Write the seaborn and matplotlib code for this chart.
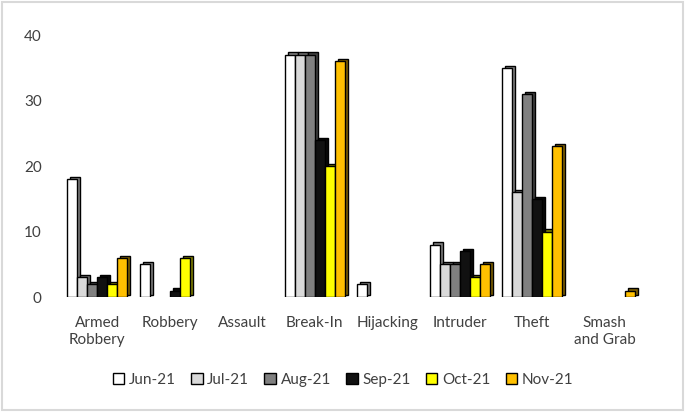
import pandas as pd
import numpy as np
import matplotlib
matplotlib.use("Agg")
import matplotlib.pyplot as plt
import matplotlib.patheffects as pe
from matplotlib.patches import Patch, Rectangle
import seaborn as sns

sns.set_theme(style="white")
plt.rcParams['font.family'] = ['Lato', 'DejaVu Sans']

# data
crimes = ["Armed\nRobbery", "Robbery", "Assault", "Break-In", "Hijacking",
          "Intruder", "Theft", "Smash\nand Grab"]
months = ["Jun-21", "Jul-21", "Aug-21", "Sep-21", "Oct-21", "Nov-21"]
jun = [18, 5, 0, 37, 2, 8, 35, 0]
jul = [3, 0, 0, 37, 0, 5, 16, 0]
aug = [2, 0, 0, 37, 0, 5, 31, 0]
sep = [3, 1, 0, 24, 0, 7, 15, 0]
oct_ = [2, 6, 0, 20, 0, 3, 10, 0]
nov = [6, 0, 0, 36, 0, 5, 23, 1]
colors = ["#ffffff", "#d9d9d9", "#808080", "#111111", "#ffff00", "#ffc000"]
y_ticks = [0, 10, 20, 30, 40]

series = [jun, jul, aug, sep, oct_, nov]
rows = []
for m, vals in zip(months, series):
    for c, v in zip(crimes, vals):
        rows.append({"crime": c, "month": m, "count": v})
df = pd.DataFrame(rows)

fig = plt.figure(figsize=(6.86, 4.12), dpi=100)
ax = fig.add_axes([0.089, 0.279, 0.845, 0.636])

sns.barplot(data=df, x="crime", y="count", hue="month", hue_order=months,
            order=crimes, palette=colors, edgecolor="black", linewidth=1,
            width=0.83, gap=0, saturation=1, legend=False, ax=ax)

# fake the 3d depth of the excel columns with a dark offset copy
for p in ax.patches:
    if p.get_height() == 0:
        p.set_visible(False)
        continue
    p.set_path_effects([
        pe.SimplePatchShadow(offset=(2.2, 1.6), alpha=1, rho=0.5,
                             foreground="black", linewidth=1),
        pe.Normal()])

ax.set_ylim(0, 40)
ax.set_yticks(y_ticks)
ax.set_xlabel("")
ax.set_ylabel("")
for s in ax.spines.values():
    s.set_visible(False)
ax.tick_params(axis="both", length=0, labelsize=11, colors="#404040")
ax.tick_params(axis="x", pad=14)
ax.tick_params(axis="y", pad=14)

handles = [Patch(facecolor=c, edgecolor="black", linewidth=1) for c in colors]
fig.legend(handles, months, loc="center", bbox_to_anchor=(0.5, 0.078),
           ncol=6, frameon=False, fontsize=11, handlelength=0.75,
           handleheight=0.75, handletextpad=0.3, columnspacing=1.0,
           labelcolor="#404040")

fig.patches.append(Rectangle((0.003, 0.004), 0.993, 0.99, transform=fig.transFigure,
                             fill=False, edgecolor="#d9d9d9", linewidth=1.5))

fig.savefig("out.png", dpi=100)
